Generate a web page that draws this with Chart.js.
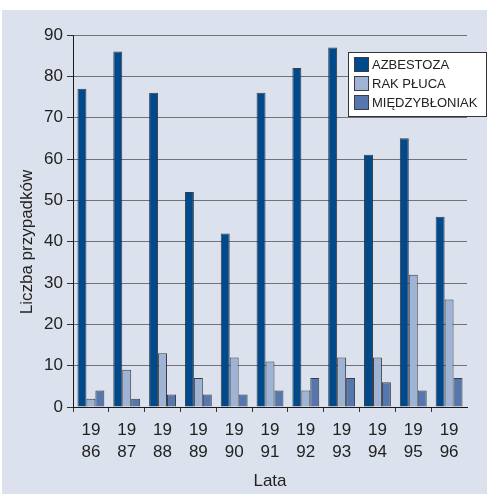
<!DOCTYPE html>
<html>
<head>
<meta charset="utf-8">
<script src="https://cdn.jsdelivr.net/npm/chart.js@4/dist/chart.umd.min.js"></script>
<style>
  html, body { margin: 0; padding: 0; background: #fff; }
  canvas { display: block; }
</style>
</head>
<body>
<canvas id="chart" width="489" height="494"></canvas>
<script>
const years = [
  ["19", "86"], ["19", "87"], ["19", "88"], ["19", "89"], ["19", "90"], ["19", "91"],
  ["19", "92"], ["19", "93"], ["19", "94"], ["19", "95"], ["19", "96"],
];
const azbestoza = [77, 86, 76, 52, 42, 76, 82, 87, 61, 65, 46];
const rakPluca = [2, 9, 13, 7, 12, 11, 4, 12, 12, 32, 26];
const miedzybloniak = [4, 2, 3, 3, 3, 4, 7, 7, 6, 4, 7];
const seriesNames = ["AZBESTOZA", "RAK PŁUCA", "MIĘDZYBŁONIAK"];

const fontFamily = "'Liberation Sans', Arial, sans-serif";
const textColor = "#222";

// pale panel behind everything
const backgroundPlugin = {
  id: "panel",
  beforeDraw(chart) {
    const { ctx, width, height } = chart;
    ctx.save();
    ctx.fillStyle = "#ffffff";
    ctx.fillRect(0, 0, width, height);
    ctx.fillStyle = "#dce2ed";
    ctx.fillRect(2, 10, width - 4, height - 10);
    ctx.restore();
  },
};

// y title sits lower than the axis centre, and the legend box overlaps the plot
const extrasPlugin = {
  id: "extras",
  afterDraw(chart) {
    const { ctx } = chart;
    ctx.save();
    ctx.fillStyle = textColor;
    ctx.font = `17px ${fontFamily}`;
    ctx.translate(27, 242);
    ctx.rotate(-Math.PI / 2);
    ctx.textAlign = "center";
    ctx.textBaseline = "middle";
    ctx.fillText("Liczba przypadków", 0, 0);
    ctx.restore();

    const box = { x: 348.5, y: 52.5, w: 138, h: 64 };
    ctx.save();
    ctx.fillStyle = "#ffffff";
    ctx.fillRect(box.x, box.y, box.w, box.h);
    ctx.strokeStyle = "#333";
    ctx.lineWidth = 1;
    ctx.strokeRect(box.x, box.y, box.w, box.h);
    ctx.font = `13px ${fontFamily}`;
    ctx.textBaseline = "middle";
    chart.data.datasets.forEach((ds, i) => {
      const cy = 64.5 + i * 19;
      ctx.fillStyle = ds.backgroundColor;
      ctx.fillRect(354.5, cy - 7, 14, 14);
      ctx.strokeStyle = "#3a3d42";
      ctx.strokeRect(354.5, cy - 7, 14, 14);
      ctx.fillStyle = textColor;
      ctx.fillText(ds.label, 372, cy + 0.5);
    });
    ctx.restore();
  },
};

const barStyle = {
  borderWidth: 1,
  borderColor: "rgba(40, 43, 50, 0.9)",
  borderSkipped: "start",
  categoryPercentage: 0.75,
  barPercentage: 1.0,
};

new Chart(document.getElementById("chart"), {
  type: "bar",
  data: {
    labels: years,
    datasets: [
      { label: seriesNames[0], data: azbestoza, backgroundColor: "#00498a", ...barStyle },
      { label: seriesNames[1], data: rakPluca, backgroundColor: "#9fb3d4", ...barStyle },
      { label: seriesNames[2], data: miedzybloniak, backgroundColor: "#5677ae", ...barStyle },
    ],
  },
  options: {
    responsive: false,
    animation: false,
    layout: {
      padding: { top: 35, right: 22, left: 0, bottom: 0 },
    },
    plugins: {
      legend: { display: false },
      tooltip: { enabled: false },
    },
    scales: {
      x: {
        afterFit: (scale) => { scale.height = 87; },
        grid: {
          offset: true,
          drawOnChartArea: false,
          drawTicks: true,
          tickLength: 5,
          tickColor: (c) => (c.type === "tick" ? "#333" : "rgba(0,0,0,0)"),
        },
        border: { display: true, color: "#1a1a1a", width: 1 },
        ticks: {
          color: textColor,
          font: { family: fontFamily, size: 17, lineHeight: 1.25 },
          padding: 8,
          maxRotation: 0,
          autoSkip: false,
        },
        title: {
          display: true,
          text: "Lata",
          color: textColor,
          font: { family: fontFamily, size: 17, lineHeight: 1.2 },
          padding: { top: 0, bottom: 2 },
        },
      },
      y: {
        min: 0,
        max: 90,
        afterFit: (scale) => { scale.width = 73; },
        grid: {
          color: "#6f7278",
          lineWidth: 1,
          drawTicks: true,
          tickLength: 6,
          tickColor: "#333",
        },
        border: { display: true, color: "#1a1a1a", width: 1 },
        ticks: {
          stepSize: 10,
          color: textColor,
          font: { family: fontFamily, size: 17 },
          padding: 4,
        },
      },
    },
  },
  plugins: [backgroundPlugin, extrasPlugin],
});
</script>
</body>
</html>
